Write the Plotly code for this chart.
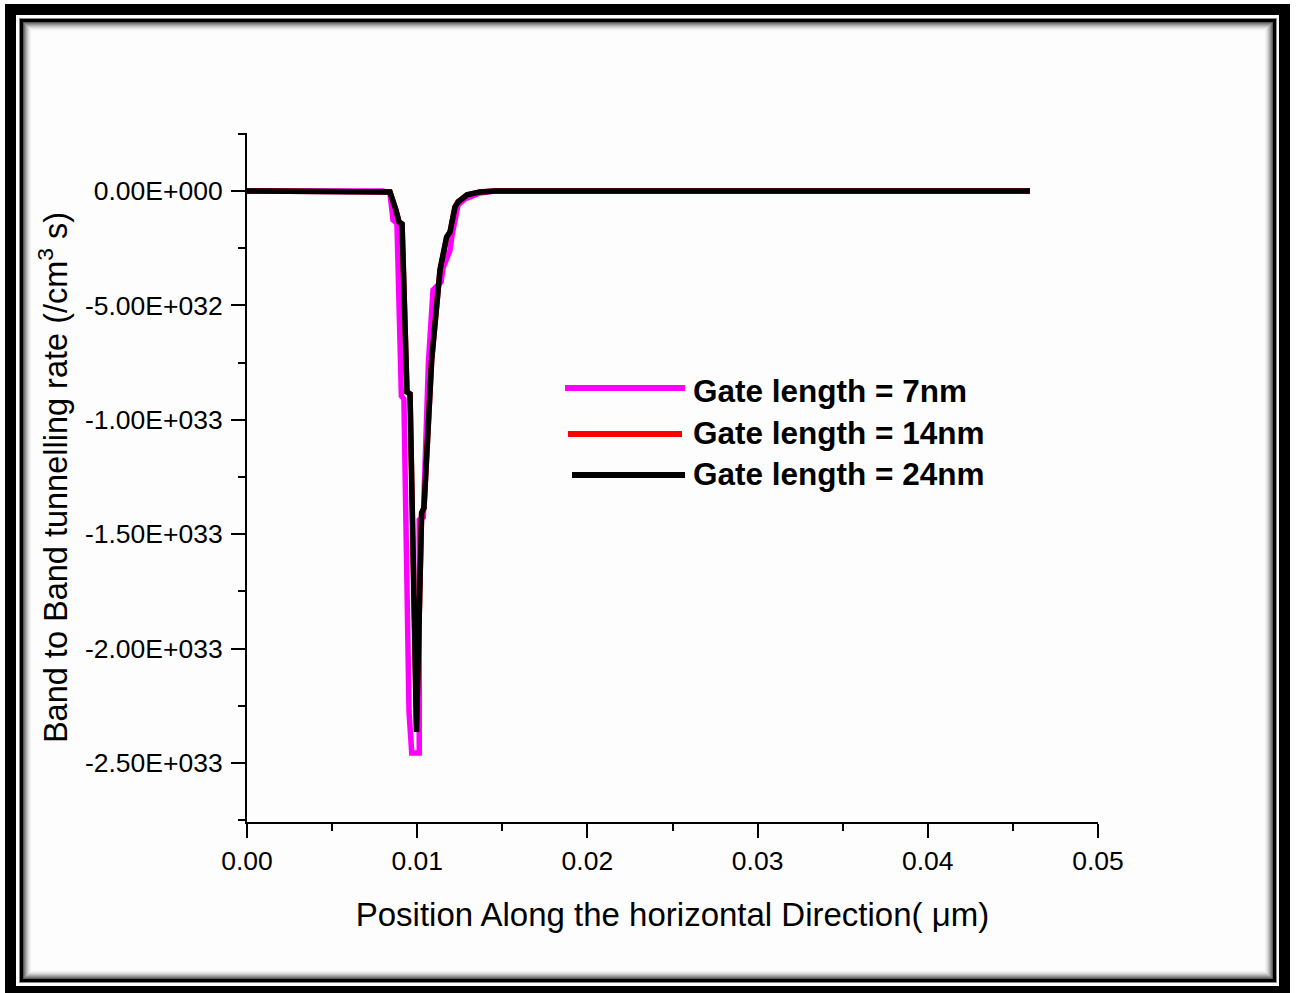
import plotly.graph_objects as go

# ---------------- data ----------------
x_7nm = [0.0, 0.00799, 0.00840, 0.00858, 0.00881, 0.00907, 0.00922, 0.00952, 0.00968,
         0.01012, 0.01012, 0.01036, 0.01066, 0.01093, 0.01140, 0.01152, 0.01193, 0.01204,
         0.01240, 0.01281, 0.01369, 0.01457, 0.0460]
y_7nm = [0.0, 0.0, -0.009e33, -0.127e33, -0.140e33, -0.896e33, -0.909e33, -2.277e33, -2.456e33,
         -2.456e33, -1.438e33, -1.425e33, -0.748e33, -0.433e33, -0.398e33, -0.337e33, -0.258e33,
         -0.197e33, -0.061e33, -0.035e33, -0.009e33, 0.0, 0.0]

x_14nm = [0.0, 0.00799, 0.00840, 0.00875, 0.00893, 0.00911, 0.00928, 0.00940, 0.00958, 0.00996,
          0.01026, 0.01040, 0.01085, 0.01122, 0.01134, 0.01173, 0.01193, 0.01222, 0.01240,
          0.01293, 0.01369, 0.01457, 0.0460]
y_14nm = [0.0, 0.0, -0.004e33, -0.083e33, -0.135e33, -0.144e33, -0.739e33, -0.878e33, -0.887e33,
          -2.36e33, -1.407e33, -1.385e33, -0.739e33, -0.433e33, -0.345e33, -0.201e33, -0.179e33,
          -0.070e33, -0.048e33, -0.017e33, -0.004e33, 0.0, 0.0]

x_24nm = [0.0, 0.00799, 0.00840, 0.00875, 0.00893, 0.00911, 0.00928, 0.00940, 0.00958, 0.00996,
          0.01026, 0.01040, 0.01085, 0.01122, 0.01134, 0.01173, 0.01193, 0.01222, 0.01240,
          0.01293, 0.01369, 0.01457, 0.0460]
y_24nm = [0.0, 0.0, -0.004e33, -0.083e33, -0.135e33, -0.144e33, -0.739e33, -0.878e33, -0.887e33,
          -2.364e33, -1.407e33, -1.385e33, -0.739e33, -0.433e33, -0.345e33, -0.201e33, -0.179e33,
          -0.070e33, -0.048e33, -0.017e33, -0.004e33, 0.0, 0.0]

series_names = ["Gate length = 7nm", "Gate length = 14nm", "Gate length = 24nm"]
series_colors = ["#FF00FF", "#FF0000", "#000000"]

x_tick_vals = [0.0, 0.01, 0.02, 0.03, 0.04, 0.05]
x_tick_text = ["0.00", "0.01", "0.02", "0.03", "0.04", "0.05"]
x_minor_vals = [0.005, 0.015, 0.025, 0.035, 0.045]
y_tick_vals = [0.0, -5e32, -1e33, -1.5e33, -2e33, -2.5e33]
y_tick_text = ["0.00E+000", "-5.00E+032", "-1.00E+033", "-1.50E+033", "-2.00E+033", "-2.50E+033"]
y_minor_vals = [2.5e32, -2.5e32, -7.5e32, -1.25e33, -1.75e33, -2.25e33, -2.75e33]

x_title = "Position Along the horizontal Direction( \u03bcm)"
y_title = "Band to Band tunnelling rate (/cm<sup>3</sup> s)"

# ---------------- layout geometry ----------------
W, H = 1296, 993
L, R, T, B = 247, 1098, 133, 822   # plot area in pixels


def px(xp):
    return (xp - L) / (R - L)


def py(yp):
    return (B - yp) / (B - T)


FONT = "Liberation Sans, Arial, sans-serif"

fig = go.Figure()
for xs, ys, name, col in zip([x_7nm, x_14nm, x_24nm], [y_7nm, y_14nm, y_24nm],
                             series_names, series_colors):
    fig.add_trace(go.Scatter(x=xs, y=ys, mode="lines", name=name,
                             line=dict(color=col, width=5.5), showlegend=False))

# ---------------- frame shapes ----------------
shapes = []


def rect(x0, y0, x1, y1, fill):
    shapes.append(dict(type="rect", xref="paper", yref="paper",
                       x0=px(x0), x1=px(x1), y0=py(y1), y1=py(y0),
                       fillcolor=fill, line=dict(width=0), layer="below"))


rect(5, 4, 1290, 996, "#000000")
rect(16, 15, 1279, 986, "#ffffff")
rect(19, 18, 1277, 983, "#8a8a8a")
rect(20, 19, 1276, 982, "#000000")
grays = ["#5a5a5a", "#7a7a7a", "#959595", "#adadad", "#c4c4c4", "#d8d8d8", "#e8e8e8", "#f3f3f3", "#fafafa", "#fdfdfd"]
for i, g in enumerate(grays):
    rect(23 + i, 22 + i, 1273 - i, 979 - i, g)

# legend samples
legend_rows = [(565, 685, 388, 391), (568, 682, 434, 433), (572, 685, 475, 474)]
annotations = []
for (lx0, lx1, ly, ty), col, name in zip(legend_rows, series_colors, series_names):
    shapes.append(dict(type="line", xref="paper", yref="paper",
                       x0=px(lx0), x1=px(lx1), y0=py(ly), y1=py(ly),
                       line=dict(color=col, width=6), layer="above"))
    annotations.append(dict(xref="paper", yref="paper", x=px(691), y=py(ty),
                            xanchor="left", yanchor="middle", showarrow=False,
                            text="<b>%s</b>" % name,
                            font=dict(family=FONT, size=31.5, color="black")))

fig.update_layout(
    width=W, height=H,
    margin=dict(l=L, r=W - R, t=T, b=H - B, pad=0),
    paper_bgcolor="white", plot_bgcolor="rgba(0,0,0,0)",
    shapes=shapes, annotations=annotations,
    showlegend=False,
    font=dict(family=FONT, color="black"),
)
fig.update_xaxes(
    range=[0, 0.05], showgrid=False, zeroline=False,
    showline=True, linecolor="black", linewidth=2,
    ticks="outside", ticklen=14, tickwidth=2, tickcolor="black",
    tickvals=x_tick_vals, ticktext=x_tick_text,
    tickfont=dict(family=FONT, size=26.5, color="black"),
    ticklabelstandoff=0,
    minor=dict(tickvals=x_minor_vals, ticks="outside", ticklen=7, tickwidth=2, tickcolor="black"),
    title=dict(text=x_title, font=dict(family=FONT, size=33, color="black"), standoff=28),
)
fig.update_yaxes(
    range=[-2.758e33, 0.2535e33], showgrid=False, zeroline=False,
    showline=True, linecolor="black", linewidth=2,
    ticks="outside", ticklen=14, tickwidth=2, tickcolor="black",
    tickvals=y_tick_vals, ticktext=y_tick_text,
    tickfont=dict(family=FONT, size=26.5, color="black"),
    ticklabelstandoff=3,
    minor=dict(tickvals=y_minor_vals, ticks="outside", ticklen=7, tickwidth=2, tickcolor="black"),
    title=dict(text=y_title, font=dict(family=FONT, size=32.5, color="black"), standoff=8),
)

fig.write_html("out.html")
